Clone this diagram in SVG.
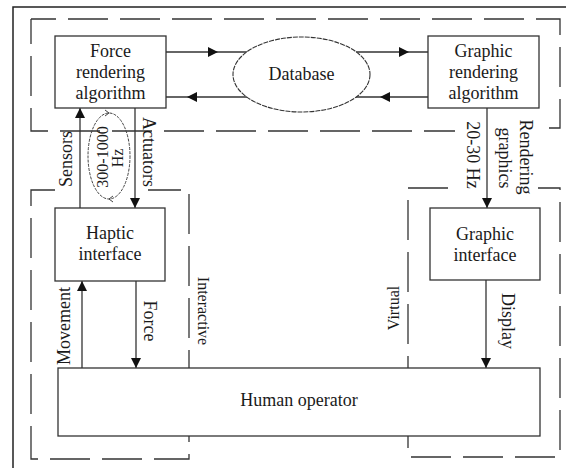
<svg xmlns="http://www.w3.org/2000/svg" width="566" height="468" viewBox="0 0 566 468">
<style>
text{font-family:"Liberation Serif","Times New Roman",serif;font-size:18px;fill:#1a1a1a}
.box{fill:#fff;stroke:#333;stroke-width:1.3}
.ln{fill:none;stroke:#333;stroke-width:1.3}
.dash{fill:none;stroke:#333;stroke-width:1.3;stroke-dasharray:40 12}
.frame{fill:none;stroke:#222;stroke-width:1.5}
.sm{font-size:16px}
</style>
<defs>
<marker id="ah" viewBox="0 0 10 10" refX="10" refY="5" markerWidth="10" markerHeight="10" markerUnits="userSpaceOnUse" orient="auto">
<path d="M0,0 L10,5 L0,10 Z" fill="#111"/>
</marker>
<marker id="am" viewBox="0 0 10 10" refX="5" refY="5" markerWidth="10" markerHeight="10" markerUnits="userSpaceOnUse" orient="auto">
<path d="M0,0 L10,5 L0,10 Z" fill="#111"/>
</marker>
</defs>
<rect width="566" height="468" fill="#fff"/>
<g id="frame">
<path class="frame" d="M13,468 V7 H566"/>
</g>
<g id="regions">
<path class="dash" d="M31,19 H560 V128 H541" stroke-dashoffset="15"/>
<path class="dash" d="M31,19 V131 H455" stroke-dashoffset="15"/>
<path class="dash" d="M55,190 H31 V459 H189 V190 H148"/>
<path class="dash" d="M448,188 H408 V457 H560 V188 H538"/>
</g>
<g id="connectors">
<path class="ln" d="M166,52 L213,52 L247,52" marker-mid="url(#am)"/>
<path class="ln" d="M356,52 L404,52 L428,52" marker-mid="url(#am)"/>
<path class="ln" d="M247,97 L192,97 L166,97" marker-mid="url(#am)"/>
<path class="ln" d="M428,97 L385,97 L356,97" marker-mid="url(#am)"/>
<path class="ln" d="M80,208 V108" marker-end="url(#ah)"/>
<path class="ln" d="M135,108 V208" marker-end="url(#ah)"/>
<path class="ln" d="M487,108 V208" marker-end="url(#ah)"/>
<path class="ln" d="M82,368 V281" marker-end="url(#ah)"/>
<path class="ln" d="M136,281 V368" marker-end="url(#ah)"/>
<path class="ln" d="M486,280 V368" marker-end="url(#ah)"/>
</g>
<g id="loop">
<ellipse cx="109" cy="156" rx="21" ry="43" fill="none" stroke="#444" stroke-width="1" stroke-dasharray="3 1.2"/>
<path d="M105,110 L109,113 L105,116" fill="none" stroke="#444" stroke-width="1"/>
<path d="M113,196 L109,199 L113,202" fill="none" stroke="#444" stroke-width="1"/>
<text class="sm" transform="translate(108,157) rotate(-90)" text-anchor="middle">300-1000</text>
<text class="sm" transform="translate(123,158) rotate(-90)" text-anchor="middle">Hz</text>
</g>
<g id="force-rendering">
<rect class="box" x="55" y="36" width="111" height="72"/>
<text x="110.5" y="57" text-anchor="middle">Force</text>
<text x="110.5" y="78" text-anchor="middle">rendering</text>
<text x="110.5" y="99" text-anchor="middle">algorithm</text>
</g>
<g id="database">
<ellipse cx="301.5" cy="74.5" rx="68.5" ry="37.5" fill="#fff" stroke="#333" stroke-width="1.1" stroke-dasharray="5 1"/>
<text x="301.5" y="80" text-anchor="middle">Database</text>
</g>
<g id="graphic-rendering">
<rect class="box" x="428" y="36" width="111" height="72"/>
<text x="483.5" y="57" text-anchor="middle">Graphic</text>
<text x="483.5" y="78" text-anchor="middle">rendering</text>
<text x="483.5" y="99" text-anchor="middle">algorithm</text>
</g>
<g id="haptic-interface">
<rect class="box" x="55" y="208" width="110" height="73"/>
<text x="110" y="239" text-anchor="middle">Haptic</text>
<text x="110" y="260" text-anchor="middle">interface</text>
</g>
<g id="graphic-interface">
<rect class="box" x="430" y="208" width="110" height="72"/>
<text x="485" y="240" text-anchor="middle">Graphic</text>
<text x="485" y="261" text-anchor="middle">interface</text>
</g>
<g id="human-operator">
<rect class="box" x="58" y="368" width="482" height="68"/>
<text x="299" y="406" text-anchor="middle">Human operator</text>
</g>
<g id="labels">
<text transform="translate(72,159) rotate(-90)" text-anchor="middle">Sensors</text>
<text transform="translate(143,152) rotate(90)" text-anchor="middle">Actuators</text>
<text transform="translate(70,326) rotate(-90)" text-anchor="middle">Movement</text>
<text transform="translate(144,321) rotate(90)" text-anchor="middle">Force</text>
<text class="sm" transform="translate(198,311) rotate(90)" text-anchor="middle">Interactive</text>
<text class="sm" transform="translate(399,308) rotate(-90)" text-anchor="middle">Virtual</text>
<text transform="translate(502,321) rotate(90)" text-anchor="middle">Display</text>
<text transform="translate(467,155) rotate(90)" text-anchor="middle">20-30 Hz</text>
<text transform="translate(520,157) rotate(90)" text-anchor="middle">Rendering</text>
<text transform="translate(499,158) rotate(90)" text-anchor="middle">graphics</text>
</g>
</svg>
